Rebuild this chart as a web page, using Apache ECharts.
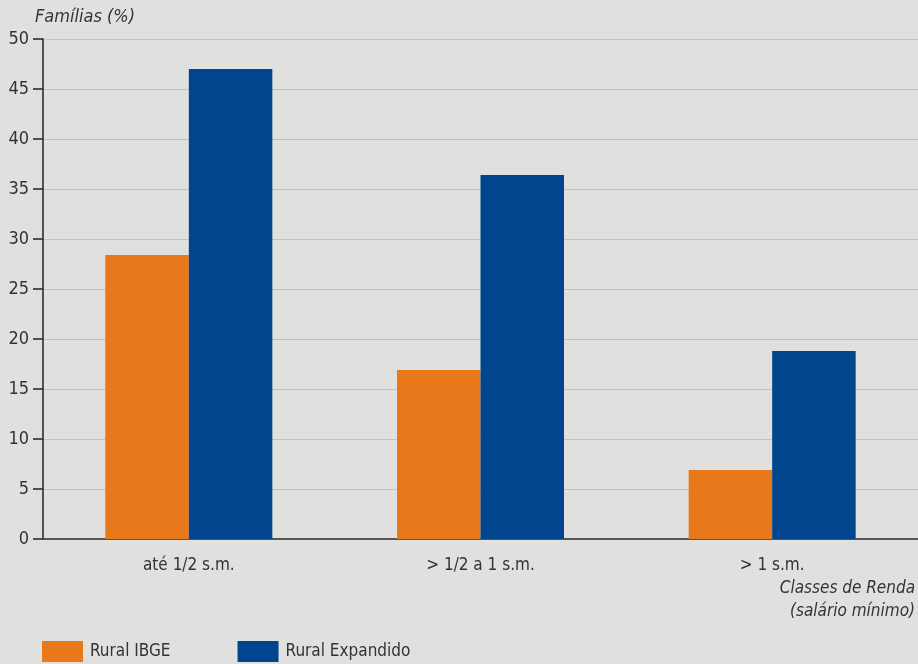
<!DOCTYPE html>
<html><head><meta charset="utf-8">
<script src="https://cdn.jsdelivr.net/npm/echarts@6/dist/echarts.min.js"></script>
<style>html,body{margin:0;padding:0;background:#e0e0de;}#c{width:918px;height:664px;}</style>
</head><body><div id="c"></div>
<script>
var categories = ['até 1/2 s.m.', '> 1/2 a 1 s.m.', '> 1 s.m.'];
var ruralIBGE = [28.4, 16.9, 6.9];
var ruralExpandido = [47.0, 36.4, 18.8];
var seriesNames = ['Rural IBGE', 'Rural Expandido'];
var yTitle = 'Famílias (%)';
var xTitleLines = ['Classes de Renda', '(salário mínimo)'];

var FONT = '"Liberation Sans Narrow", "DejaVu Sans Condensed", "Liberation Sans", sans-serif';
var chart = echarts.init(document.getElementById('c'));
chart.setOption({
  backgroundColor: '#e0e0de',
  animation: false,
  textStyle: { fontFamily: FONT },
  grid: { left: 43, right: 0, top: 39, bottom: 125, containLabel: false },
  legend: {
    left: 42, bottom: 2, padding: 0, itemWidth: 41, itemHeight: 21, itemGap: 67,
    icon: 'rect',
    textStyle: { fontFamily: FONT, fontSize: 17, color: '#333', padding: [0,0,0,2] },
    data: seriesNames
  },
  xAxis: {
    type: 'category', data: categories,
    axisLine: { lineStyle: { color: '#555', width: 2 } },
    axisTick: { show: false },
    axisLabel: { fontFamily: FONT, fontSize: 17, color: '#333', margin: 18 }
  },
  yAxis: {
    type: 'value', min: 0, max: 50, interval: 5,
    axisLine: { show: true, lineStyle: { color: '#222', width: 1.5 } },
    axisTick: { show: true, length: 10, lineStyle: { color: '#222', width: 1.5 } },
    axisLabel: { fontFamily: FONT, fontSize: 18, color: '#333', margin: 14 },
    splitLine: { lineStyle: { color: '#c2c2c0', width: 1 } }
  },
  graphic: [
    { type: 'text', left: 35, top: 8, style: { text: yTitle, fontFamily: FONT, fontSize: 18, fontStyle: 'italic', fill: '#333' } },
    { type: 'text', right: 3, top: 580, style: { text: xTitleLines[0], fontFamily: FONT, fontSize: 17, fontStyle: 'italic', fill: '#333' } },
    { type: 'text', right: 3, top: 603, style: { text: xTitleLines[1], fontFamily: FONT, fontSize: 17, fontStyle: 'italic', fill: '#333' } }
  ],
  series: [
    { name: seriesNames[0], type: 'bar', data: ruralIBGE, barWidth: 83.5, barGap: '0%', itemStyle: { color: '#e8791a' } },
    { name: seriesNames[1], type: 'bar', data: ruralExpandido, barWidth: 83.5, barGap: '0%', itemStyle: { color: '#00458d' } }
  ]
});
</script></body></html>
